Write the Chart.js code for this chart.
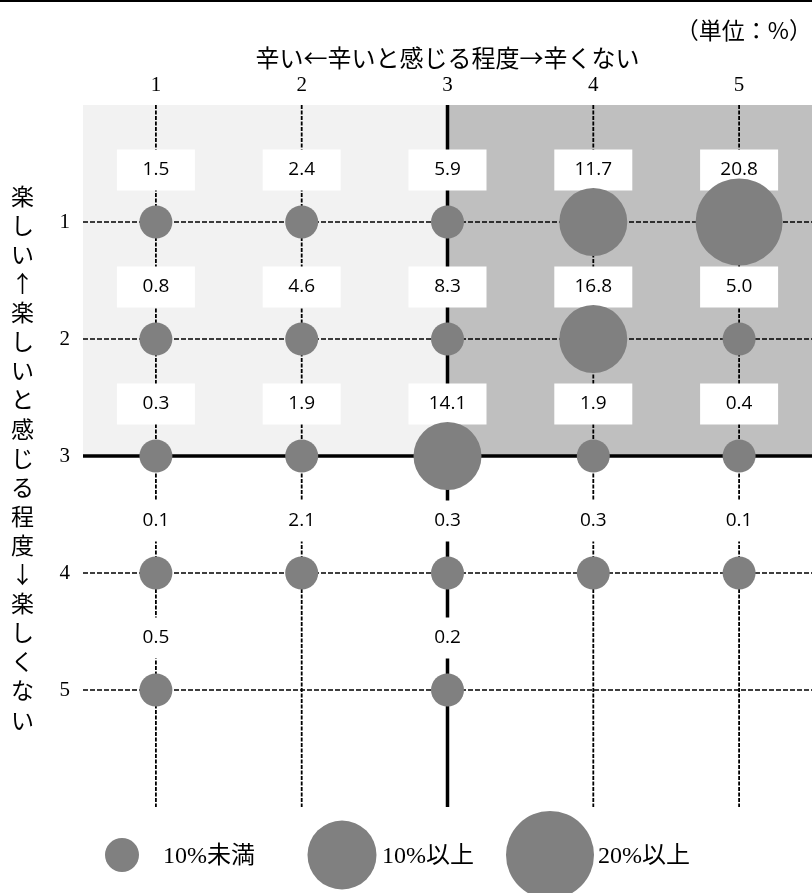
<!DOCTYPE html>
<html>
<head>
<meta charset="utf-8">
<script src="https://cdn.jsdelivr.net/npm/chart.js@4.4.1/dist/chart.umd.min.js"></script>
<style>
html,body{margin:0;padding:0;background:#fff;}
#wrap{width:812px;height:893px;position:relative;}
</style>
</head>
<body>
<div id="wrap"><canvas id="c" width="812" height="893"></canvas></div>
<script>
// ---- data ----
const painTicks = [1, 2, 3, 4, 5];          // 辛いと感じる程度 (x)
const funTicks  = [1, 2, 3, 4, 5];          // 楽しいと感じる程度 (y)
const fun1 = [1.5, 2.4, 5.9, 11.7, 20.8];
const fun2 = [0.8, 4.6, 8.3, 16.8, 5.0];
const fun3 = [0.3, 1.9, 14.1, 1.9, 0.4];
const fun4 = [0.1, 2.1, 0.3, 0.3, 0.1];
const fun5 = [0.5, null, 0.2, null, null];
const funRows = [fun1, fun2, fun3, fun4, fun5];
const xTitle = '辛い←辛いと感じる程度→辛くない';
const yTitle = '楽しい↑楽しいと感じる程度↓楽しくない';
const unitText = '（単位：%）';
const legendLabels = ['10%未満', '10%以上', '20%以上'];
const legendSample = [5, 10, 20];

function radiusFor(v) { return v >= 20 ? 43.5 : (v >= 10 ? 34 : 16.5); }

const points = [];
funRows.forEach((row, i) => {
  row.forEach((v, j) => {
    if (v !== null) points.push({ x: painTicks[j], y: funTicks[i], r: radiusFor(v), v: v });
  });
});

const JP = "'Noto Sans CJK JP', 'Noto Sans', sans-serif";
const SERIF = "'Liberation Serif', 'Noto Sans CJK JP', serif";

const decor = {
  id: 'decor',
  beforeDatasetsDraw(chart) {
    const { ctx, chartArea: { left, right, top, bottom }, scales: { x, y } } = chart;
    const x3 = x.getPixelForValue(3), y3 = y.getPixelForValue(3);
    ctx.save();
    // shading
    ctx.fillStyle = '#f2f2f2';
    ctx.fillRect(left, top, x3 - left, y3 - top);
    ctx.fillStyle = '#bfbfbf';
    ctx.fillRect(x3, top, right - x3, y3 - top);
    // grid lines
    ctx.strokeStyle = '#000';
    painTicks.forEach(v => {
      const px = x.getPixelForValue(v);
      ctx.beginPath();
      if (v === 3) { ctx.setLineDash([]); ctx.lineWidth = 3.5; }
      else { ctx.setLineDash([4, 1.5]); ctx.lineWidth = 1.8; }
      ctx.moveTo(px, top); ctx.lineTo(px, bottom); ctx.stroke();
    });
    funTicks.forEach(v => {
      const py = y.getPixelForValue(v);
      ctx.beginPath();
      if (v === 3) { ctx.setLineDash([]); ctx.lineWidth = 3.5; }
      else { ctx.setLineDash([5, 2]); ctx.lineWidth = 1.6; }
      ctx.moveTo(left, py); ctx.lineTo(right, py); ctx.stroke();
    });
    ctx.setLineDash([]);
    // value labels with white boxes
    ctx.font = "19px 'Open Sans', sans-serif";
    ctx.textAlign = 'center';
    ctx.textBaseline = 'middle';
    points.forEach(p => {
      const px = x.getPixelForValue(p.x);
      const py = y.getPixelForValue(p.y) - 52;
      ctx.fillStyle = '#fff';
      ctx.fillRect(px - 39, py - 20.5, 78, 41);
      ctx.fillStyle = '#000';
      ctx.fillText(p.v.toFixed(1), px, py);
    });
    ctx.restore();
  },
  afterDraw(chart) {
    const { ctx } = chart;
    ctx.save();
    // top border line
    ctx.fillStyle = '#000';
    ctx.fillRect(0, 0, 812, 2);
    // vertical y-axis title
    ctx.font = '23px ' + JP;
    ctx.textAlign = 'center';
    ctx.textBaseline = 'middle';
    ctx.fillStyle = '#000';
    Array.from(yTitle).forEach((ch, k) => {
      ctx.fillText(ch, 22.5, 196 + k * 29.1);
    });
    // legend
    const cx = [122, 342, 550];
    const tx = [163, 382, 598];
    legendLabels.forEach((lab, k) => {
      ctx.beginPath();
      ctx.fillStyle = '#808080';
      ctx.arc(cx[k], 855, radiusFor(legendSample[k]) + 0.5, 0, Math.PI * 2);
      ctx.fill();
      ctx.fillStyle = '#000';
      ctx.font = '24px ' + SERIF;
      ctx.textAlign = 'left';
      ctx.fillText(lab, tx[k], 857);
    });
    ctx.restore();
  }
};

new Chart(document.getElementById('c'), {
  type: 'bubble',
  data: {
    datasets: [{
      data: points,
      backgroundColor: '#808080',
      borderWidth: 0,
      hoverRadius: 0,
      clip: false
    }]
  },
  options: {
    responsive: false,
    animation: false,
    events: [],
    layout: { autoPadding: false, padding: { left: 0, right: 0, top: 0, bottom: 86 } },
    plugins: {
      legend: { display: false },
      tooltip: { enabled: false },
      title: {
        display: true, text: unitText, align: 'end', color: '#000',
        font: { size: 23, family: JP, weight: 'normal' },
        padding: { top: 16, bottom: 0 }
      }
    },
    scales: {
      x: {
        type: 'linear', position: 'top', min: 0.5, max: 5.5,
        afterBuildTicks: s => { s.ticks = painTicks.map(v => ({ value: v })); },
        afterFit: s => { s.height = 105 - 16 - 23 * 1.2; },
        grid: { display: false, drawTicks: false },
        border: { display: false },
        ticks: { font: { family: SERIF, size: 21 }, color: '#000', padding: 7, autoSkip: false, maxRotation: 0 },
        title: { display: true, text: xTitle, color: '#000', font: { size: 24, family: JP }, padding: { top: 0, bottom: 0 } }
      },
      y: {
        type: 'linear', position: 'left', reverse: true, min: 0, max: 6,
        afterBuildTicks: s => { s.ticks = funTicks.map(v => ({ value: v })); },
        afterFit: s => { s.width = 83; },
        grid: { display: false, drawTicks: false },
        border: { display: false },
        ticks: { font: { family: SERIF, size: 21 }, color: '#000', padding: 13, autoSkip: false }
      }
    }
  },
  plugins: [decor]
});
</script>
</body>
</html>
